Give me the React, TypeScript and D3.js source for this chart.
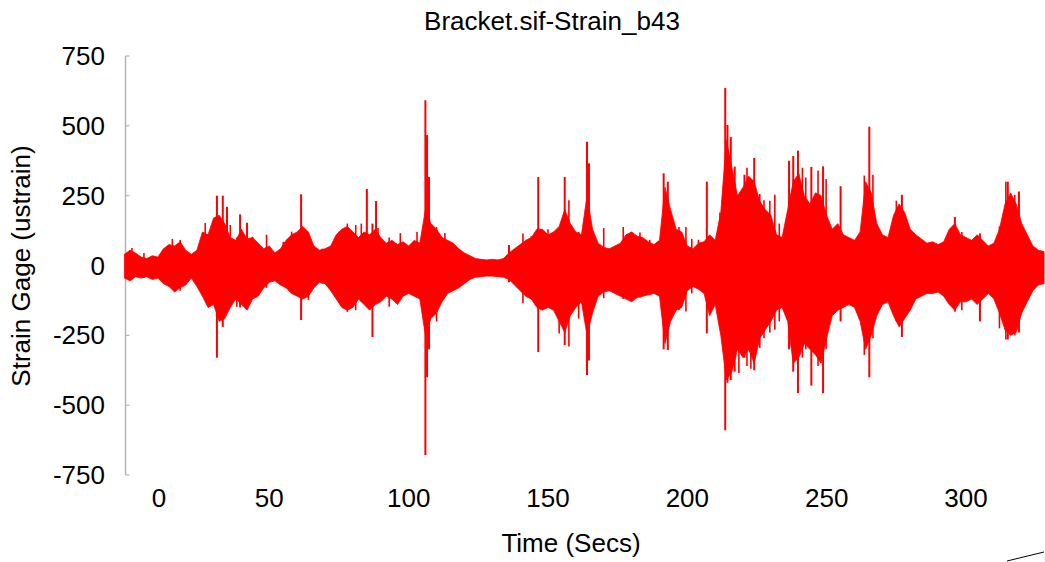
import React from 'react';
import * as d3 from 'd3';

const title = 'Bracket.sif-Strain_b43';
const xLabel = 'Time (Secs)';
const yLabel = 'Strain Gage (ustrain)';
const xTicks = [0, 50, 100, 150, 200, 250, 300];
const yTicks = [-750, -500, -250, 0, 250, 500, 750];

// envelope of the signal, one bin every 2 s starting at t = -2 s
const binStart = -2;
const binStep = 2;
const upper = [
  40, 55, 45, 30, 25, 35, 30, 60, 75, 70,
  85, 55, 40, 55, 120, 110, 170, 180, 150, 100,
  90, 130, 95, 100, 80, 60, 70, 45, 60, 90,
  110, 120, 140, 120, 70, 55, 60, 70, 110, 130,
  140, 120, 100, 120, 110, 130, 100, 80, 90, 75,
  85, 70, 90, 80, 200, 150, 130, 100, 90, 80,
  60, 45, 35, 25, 22, 20, 22, 20, 25, 45,
  60, 75, 90, 100, 130, 130, 110, 120, 140, 200,
  150, 120, 110, 250, 130, 80, 65, 60, 70, 80,
  110, 120, 105, 100, 85, 75, 90, 280, 200, 130,
  120, 70, 60, 80, 85, 110, 90, 190, 450, 350,
  250, 280, 320, 300, 230, 200, 180, 110, 100, 200,
  300, 330, 250, 220, 260, 250, 180, 130, 150, 110,
  100, 90, 120, 300, 260, 150, 110, 100, 180, 220,
  190, 130, 110, 95, 80, 85, 75, 85, 130, 150,
  110, 100, 90, 110, 90, 70, 80, 130, 220, 260,
  220, 150, 110, 70, 55, 50,
];
const lower = [
  -45, -55, -40, -45, -40, -50, -45, -65, -75, -95,
  -80, -70, -45, -75, -110, -150, -140, -200, -190, -150,
  -120, -140, -160, -120, -110, -80, -60, -55, -70, -80,
  -100, -110, -120, -110, -80, -60, -65, -90, -120, -150,
  -160, -150, -120, -140, -160, -140, -130, -110, -120, -140,
  -110, -100, -110, -120, -250, -190, -170, -130, -100, -90,
  -80, -65, -50, -42, -40, -38, -38, -40, -42, -50,
  -70, -90, -110, -120, -150, -160, -150, -160, -200, -240,
  -180, -150, -130, -250, -170, -110, -95, -90, -100, -110,
  -120, -130, -115, -110, -105, -100, -110, -280, -200, -160,
  -150, -90, -75, -85, -100, -180, -140, -250, -410, -380,
  -300, -330, -300, -350, -260, -230, -200, -160, -150, -200,
  -350, -330, -280, -300, -320, -350, -260, -180, -160, -150,
  -140, -150, -200, -300, -250, -180, -140, -130, -180, -220,
  -190, -160, -120, -110, -100, -100, -95, -110, -140, -160,
  -130, -130, -120, -140, -120, -100, -120, -170, -230, -250,
  -240, -170, -130, -90, -70, -65,
];

// narrow spikes: time, positive peak, negative peak
const spikeTimes = [31.2, 33.3, 34.8, 39.5, 42, 61.4, 85, 87, 88.3, 106, 106.6, 107.3, 136, 146.5, 156, 164, 164.7, 191.5, 193, 207, 213.6, 214.4, 215.6, 217, 220.5, 224, 236.5, 238, 239.7, 244.5, 248.7, 255, 265.3, 277, 296, 305, 315, 319];
const spikeHigh = [250, 250, 210, 183, 153, 255, 274, 150, 231, 592, 467, 317, 73, 317, 317, 443, 366, 330, 300, 300, 635, 503, 460, 354, 325, 385, 375, 392, 411, 353, 355, 284, 497, 253, 174, 115, 300, 265];
const spikeLow = [-330, -220, -160, -150, -140, -195, -140, -256, -130, -678, -400, -300, -60, -310, -285, -392, -340, -300, -303, -243, -590, -420, -410, -380, -330, -375, -300, -380, -457, -430, -457, -200, -400, -256, -165, -200, -265, -240];

// smaller peaks that give the envelope its ragged edge
const minorTimes = [0.7, 5, 15.2, 18, 27, 29, 36, 38.3, 44, 49, 55, 58, 64, 69, 75, 78, 81, 83, 89, 93, 97, 103, 110, 113, 141, 144, 150, 152.5, 154, 157.5, 161, 170, 177, 180, 183, 186.5, 197, 199.5, 201.6, 204, 211.7, 218.5, 221.4, 222.8, 226, 227.5, 229.6, 231.4, 233, 241.3, 242.5, 246.9, 249.8, 263.5, 266.6, 275, 298.5, 312, 314.3, 317.5];
const minorHigh = [63, 45, 95, 91, 152, 110, 145, 100, 103, 110, 85, 121, 100, 60, 121, 150, 145, 150, 134, 100, 116, 120, 138, 116, 115, 105, 130, 120, 110, 234, 120, 134, 138, 120, 118, 92, 138, 138, 95, 92, 190, 232, 350, 310, 256, 234, 232, 253, 150, 350, 315, 340, 310, 322, 325, 232, 120, 140, 300, 253];
const minorLow = [-50, -45, -75, -90, -118, -118, -150, -148, -118, -80, -70, -100, -123, -65, -118, -166, -160, -130, -120, -148, -120, -100, -200, -110, -135, -120, -150, -150, -243, -290, -190, -117, -120, -125, -115, -105, -160, -165, -100, -65, -220, -385, -360, -370, -295, -260, -240, -230, -200, -330, -300, -360, -300, -320, -260, -200, -160, -225, -265, -250];

const W = 1045;
const H = 562;
const FONT = 'Liberation Sans, Arial, Helvetica, sans-serif';
const FS = 26;

export default function App() {
  const x = d3.scaleLinear().domain([0, 300]).range([130, 966]);
  const y = d3.scaleLinear().domain([-750, 750]).range([475, 56]);
  const times = upper.map((_, i) => binStart + i * binStep);

  const area = d3
    .area<number>()
    .x((_, i) => x(times[i]))
    .y0((_, i) => y(lower[i]))
    .y1((d) => y(d))
    .curve(d3.curveLinear);

  const axisX = 125.5;
  const [yTop, yBottom] = [y(750), y(-750)];

  return (
    <svg
      width={W}
      height={H}
      style={{ position: 'absolute', left: 0, top: 0, display: 'block', background: '#fff' }}
      fontFamily={FONT}
    >
      <rect x={0} y={0} width={W} height={H} fill="#fff" />
      <text x={552} y={30} textAnchor="middle" fontSize={FS} fill="#000">
        {title}
      </text>

      {/* y axis */}
      <line x1={axisX} x2={axisX} y1={yTop} y2={yBottom} stroke="#b4b4b4" strokeWidth={1.5} />
      {yTicks.map((t) => (
        <g key={t}>
          <line x1={axisX} x2={axisX + 4} y1={y(t)} y2={y(t)} stroke="#b4b4b4" strokeWidth={1.2} />
          <text x={105} y={y(t)} dy="0.35em" textAnchor="end" fontSize={FS} fill="#000">
            {t}
          </text>
        </g>
      ))}

      {/* signal */}
      <path d={area(upper) || ''} fill="#ff0000" stroke="#ff0000" strokeWidth={0.8} />
      {minorTimes.map((t, i) => (
        <line
          key={'m' + i}
          x1={x(t)}
          x2={x(t)}
          y1={y(minorHigh[i])}
          y2={y(minorLow[i])}
          stroke="#ff0000"
          strokeWidth={1.6}
        />
      ))}
      {spikeTimes.map((t, i) => (
        <line
          key={i}
          x1={x(t)}
          x2={x(t)}
          y1={y(spikeHigh[i])}
          y2={y(spikeLow[i])}
          stroke="#ff0000"
          strokeWidth={2}
        />
      ))}

      {/* x tick labels */}
      {xTicks.map((t) => (
        <text key={t} x={Math.max(x(t), 159)} y={507} textAnchor="middle" fontSize={FS} fill="#000">
          {t}
        </text>
      ))}

      <text x={571} y={552} textAnchor="middle" fontSize={FS} fill="#000">
        {xLabel}
      </text>
      <text transform={`translate(30,266) rotate(-90)`} textAnchor="middle" fontSize={FS} fill="#000">
        {yLabel}
      </text>

      <line x1={1007} y1={561} x2={1044} y2={552} stroke="#000" strokeWidth={1} />
    </svg>
  );
}
